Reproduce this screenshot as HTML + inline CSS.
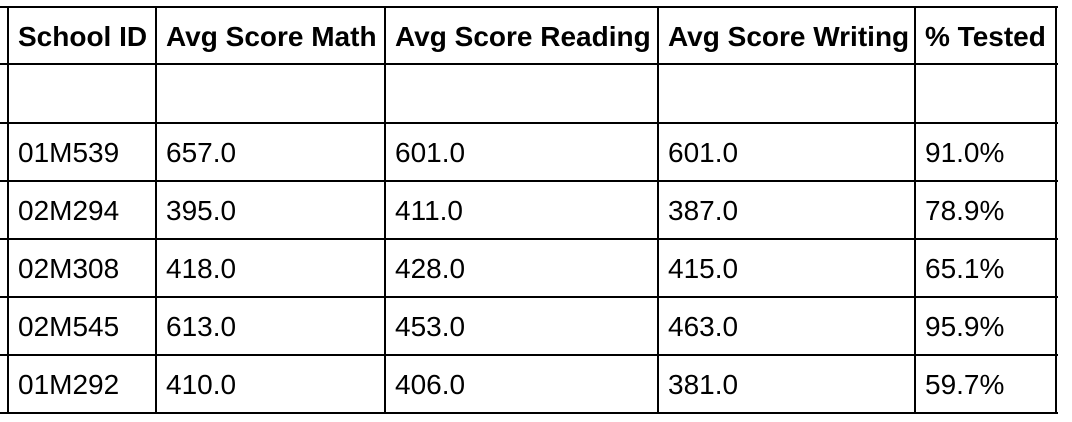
<!DOCTYPE html>
<html><head><meta charset="utf-8"><style>
html,body{margin:0;padding:0;background:#fff;width:1072px;height:422px;overflow:hidden}
#t{position:relative;width:1072px;height:422px;font-family:"Liberation Sans",Arial,sans-serif;color:#000}
.h{position:absolute;left:0;width:1058px;height:2px;background:#000}
.v{position:absolute;top:7px;width:2px;height:407px;background:#000}
.c{position:absolute;font-size:28px;line-height:30px;white-space:nowrap}
.b{font-weight:bold}
</style></head><body>
<div id="t"></div>
<script>
const headers=["School ID","Avg Score Math","Avg Score Reading","Avg Score Writing","% Tested"];
const ids=["","01M539","02M294","02M308","02M545","01M292"];
const math=["","657.0","395.0","418.0","613.0","410.0"];
const reading=["","601.0","411.0","428.0","453.0","406.0"];
const writing=["","601.0","387.0","415.0","463.0","381.0"];
const tested=["","91.0%","78.9%","65.1%","95.9%","59.7%"];
const colX=[8,156,385,658,915,1056];
const rowY=[7,64,123,181,239,297,355,413];
const t=document.getElementById('t');
rowY.forEach((y,i)=>{const d=document.createElement('div');d.className='h';d.style.top=(y-1)+'px';


t.appendChild(d);});
colX.forEach((x,i)=>{const d=document.createElement('div');d.className='v';d.style.left=(x-1)+'px';


t.appendChild(d);});
function cell(txt,ci,ri,bold){const d=document.createElement('div');d.className='c'+(bold?' b':'');
d.textContent=txt;d.style.left=(colX[ci]+10)+'px';
const top=rowY[ri],bot=rowY[ri+1];d.style.top=((top+bot)/2-14)+'px';


t.appendChild(d);}
headers.forEach((h,i)=>cell(h,i,0,true));
const cols=[ids,math,reading,writing,tested];
for(let r=0;r<ids.length;r++){cols.forEach((c,ci)=>{if(c[r])cell(c[r],ci,r+1,false);});}
</script>
</body></html>
